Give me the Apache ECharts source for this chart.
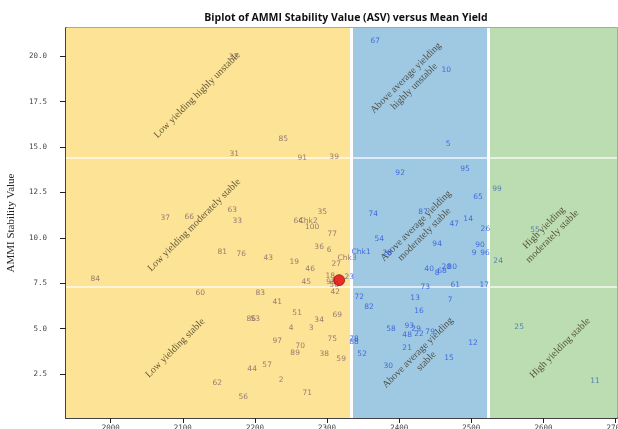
<!DOCTYPE html>
<html>
<head>
<meta charset="utf-8">
<script src="https://cdn.jsdelivr.net/npm/echarts@6/dist/echarts.min.js"></script>
<style>html,body{margin:0;padding:0;background:#fff}#c{width:618px;height:429px}</style>
</head>
<body>
<div id="c"></div>
<script>
// ---- axis setup ----
const xMin = 1938, xMax = 2702, yMin = 0.08, yMax = 21.55;
const xTicks = [2000, 2100, 2200, 2300, 2400, 2500, 2600, 2700];
const yTicks = [2.5, 5.0, 7.5, 10.0, 12.5, 15.0, 17.5, 20.0];
// thresholds
const meanYield = 2333.4, highYield = 2523.3;
const asvHigh = 14.39, asvLow = 7.29;

// ---- genotypes: low yielding (below mean) ----
const lowNames = ["32","85","31","91","39","63","37","66","33","64","Chk2","35","100","77","36","6","Chk3","81","76","43","19","46","27","18","45","98","50","42","84","60","83","41","51","34","69","86","53","4","3","97","70","75","89","38","59","57","44","62","2","56","71"];
const lowX = [2169.8,2239.1,2171.2,2265.5,2309.8,2168.4,2075.5,2108.8,2175.4,2259.9,2273.8,2293.2,2279.3,2307.1,2289.0,2302.9,2327.8,2154.6,2180.9,2218.3,2254.4,2276.5,2312.6,2304.3,2271.0,2305.6,2309.8,2311.2,1978.5,2124.1,2207.2,2230.8,2258.5,2289.0,2314.0,2194.8,2200.3,2250.2,2277.9,2230.8,2262.7,2307.1,2255.7,2296.0,2319.5,2216.9,2196.1,2147.6,2236.3,2183.7,2272.4];
const lowY = [19.95,15.43,14.61,14.39,14.44,11.53,11.09,11.14,10.92,10.92,10.92,11.42,10.59,10.21,9.49,9.32,8.88,9.21,9.10,8.88,8.66,8.28,8.55,7.89,7.56,7.56,7.40,7.01,7.73,6.96,6.96,6.46,5.86,5.47,5.75,5.53,5.53,5.03,5.03,4.32,4.04,4.43,3.66,3.60,3.33,3.00,2.78,2.00,2.17,1.23,1.45];

// ---- genotypes: above average yielding ----
const midNames = ["67","10","5","92","95","65","74","87","14","47","26","54","94","90","9","96","Chk1","28","40","8","68","20","80","73","61","17","72","82","13","7","16","58","93","29","48","22","79","78","88","12","21","52","15","30","23"];
const midX = [2366.7,2465.1,2467.8,2401.3,2491.4,2509.4,2363.9,2433.2,2495.6,2476.2,2519.5,2372.2,2452.6,2512.2,2503.9,2519.0,2347.2,2383.3,2441.5,2452.6,2459.5,2465.1,2473.4,2436.0,2477.6,2517.8,2344.5,2358.3,2422.1,2470.6,2427.6,2388.8,2413.8,2423.5,2411.0,2427.6,2442.9,2337.5,2337.5,2502.5,2411.0,2348.6,2469.2,2384.7,2330.7];
const midY = [20.83,19.23,15.16,13.56,13.78,12.24,11.31,11.42,11.03,10.76,10.49,9.93,9.66,9.60,9.16,9.16,9.21,9.16,8.28,8.06,8.17,8.39,8.39,7.29,7.40,7.40,6.74,6.19,6.68,6.57,5.97,4.98,5.14,4.98,4.65,4.70,4.81,4.43,4.26,4.21,3.93,3.60,3.38,2.94,7.84];

// ---- genotypes: high yielding ----
const highNames = ["99","55","24","25","11"];
const highX = [2535.6,2588.4,2537.2,2566.3,2671.6];
const highY = [12.68,10.43,8.72,5.09,2.11];

// ---- grand mean point ----
const meanPoint = [2316.7, 7.67];

// ---- zone annotations ----
const zoneText = ["Low yielding highly unstable","Low yielding moderately stable","Low yielding stable","Above average yielding\nhighly unstable","Above average yielding\nmoderately stable","Above average yielding\nstable","High yielding\nmoderately stable","High yielding stable"];
const zoneX = [2119.9,2115.7,2089.4,2415.2,2429.0,2431.8,2606.5,2623.0];
const zoneY = [17.86,10.70,3.93,18.57,10.42,3.44,10.31,3.93];

const pack = (names, xs, ys) => names.map((n, i) => ({ name: n, value: [xs[i], ys[i]] }));

function genoSeries(names, xs, ys, color) {
  return {
    type: 'scatter', symbolSize: 0.1, itemStyle: { color: 'rgba(0,0,0,0)' },
    data: pack(names, xs, ys), z: 5,
    label: { show: true, position: 'inside', formatter: '{b}', color: color,
      fontSize: 7.5, fontFamily: 'DejaVu Sans', fontWeight: 'normal' },
    emphasis: { disabled: true }
  };
}

const chart = echarts.init(document.getElementById('c'), null, { renderer: 'canvas' });
const option = {
  animation: false,
  backgroundColor: '#ffffff',
  title: {
    text: 'Biplot of AMMI Stability Value (ASV) versus Mean Yield',
    left: 341, top: 8, textAlign: 'center',
    textStyle: { fontSize: 10.5, fontWeight: 'bold', color: '#111', fontFamily: 'Open Sans' }
  },
  grid: { left: 66, right: 1, top: 28, bottom: 11, outerBoundsMode: 'none', containLabel: false,
    show: true, borderColor: '#8a8a8a', borderWidth: 1.5, backgroundColor: 'transparent' },
  xAxis: {
    type: 'value', min: xMin, max: xMax,
    splitLine: { show: false },
    axisLine: { show: true, onZero: false, lineStyle: { color: '#222', width: 1.5 } },
    axisTick: { show: true, length: 5, customValues: xTicks, lineStyle: { color: '#222' } },
    axisLabel: { customValues: xTicks, fontSize: 7.5, color: '#444', margin: 6, fontFamily: 'DejaVu Sans Mono',
      formatter: v => String(v) }
  },
  yAxis: {
    type: 'value', min: yMin, max: yMax,
    name: 'AMMI Stability Value', nameLocation: 'middle', nameGap: 49,
    nameTextStyle: { fontFamily: 'Liberation Serif', fontSize: 11, color: '#222' },
    splitLine: { show: false },
    axisLine: { show: true, onZero: false, lineStyle: { color: '#222', width: 1.5 } },
    axisTick: { show: true, length: 6, customValues: yTicks, lineStyle: { color: '#222' } },
    axisLabel: { customValues: yTicks, fontSize: 7.5, color: '#444', margin: 19, fontFamily: 'DejaVu Sans Mono',
      formatter: v => v.toFixed(1) }
  },
  series: [
    {
      type: 'scatter', data: [], z: 1, silent: true,
      markArea: {
        silent: true,
        data: [
          [{ xAxis: xMin, yAxis: yMin, itemStyle: { color: '#fde395' } }, { xAxis: meanYield, yAxis: yMax }],
          [{ xAxis: meanYield, yAxis: yMin, itemStyle: { color: '#9fc9e3' } }, { xAxis: highYield, yAxis: yMax }],
          [{ xAxis: highYield, yAxis: yMin, itemStyle: { color: '#bcdcb1' } }, { xAxis: xMax, yAxis: yMax }]
        ]
      },
      markLine: {
        silent: true, symbol: 'none', label: { show: false },
        data: [
          { xAxis: meanYield, lineStyle: { color: '#ffffff', width: 3, type: 'solid' } },
          { xAxis: highYield, lineStyle: { color: '#ffffff', width: 3, type: 'solid' } },
          { yAxis: asvHigh, lineStyle: { color: 'rgba(255,255,255,0.85)', width: 1.5, type: 'solid' } },
          { yAxis: asvLow, lineStyle: { color: 'rgba(255,255,255,0.85)', width: 1.5, type: 'solid' } }
        ]
      }
    },
    {
      type: 'scatter', symbolSize: 0.1, itemStyle: { color: 'rgba(0,0,0,0)' }, z: 4,
      data: zoneText.map((t, i) => ({ name: t, value: [zoneX[i], zoneY[i]] })),
      label: { show: true, position: 'inside', formatter: '{b}', rotate: 45, align: 'center',
        color: '#3a3222', fontSize: 10, fontFamily: 'Liberation Serif', lineHeight: 12 },
      emphasis: { disabled: true }
    },
    genoSeries(lowNames, lowX, lowY, '#7f6266'),
    genoSeries(midNames, midX, midY, '#2a52d8'),
    genoSeries(highNames, highX, highY, '#3c6cae'),
    {
      type: 'scatter', symbol: 'circle', symbolSize: 11, z: 6,
      itemStyle: { color: '#e3000f', borderColor: '#7a0000', borderWidth: 0.8 },
      data: [meanPoint]
    }
  ]
};
chart.setOption(option);
</script>
</body>
</html>
